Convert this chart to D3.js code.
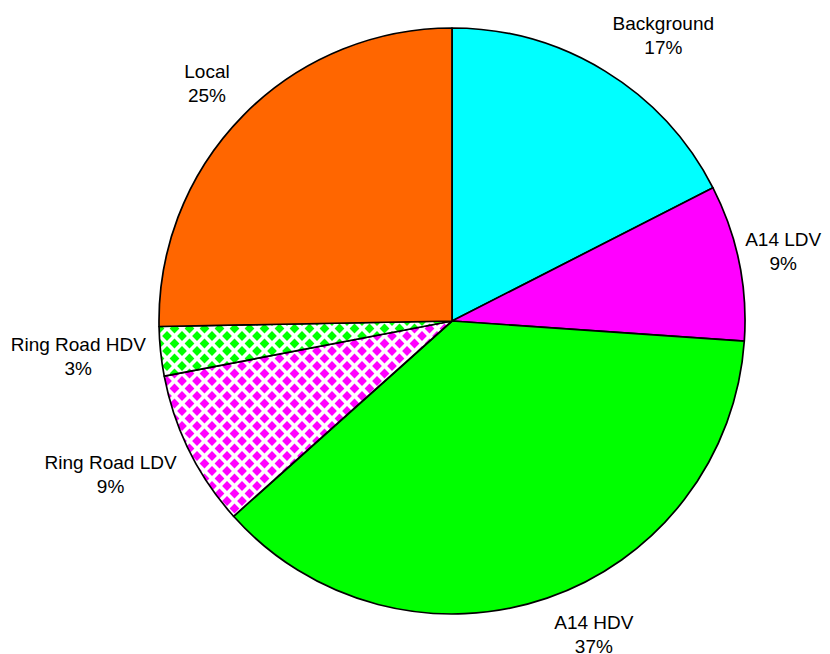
<!DOCTYPE html>
<html>
<head>
<meta charset="utf-8">
<script src="https://cdn.jsdelivr.net/npm/d3@7"></script>
<style>
  html, body { margin: 0; padding: 0; background: #ffffff; }
  svg { display: block; }
  text { font-family: "Liberation Sans", Arial, sans-serif; }
</style>
</head>
<body>
<svg id="chart" width="830" height="654"></svg>
<script>
// ---- data ----
const categories = ["Background", "A14 LDV", "A14 HDV", "Ring Road LDV", "Ring Road HDV", "Local"];
const values = [17.49, 8.6, 37.3, 8.6, 2.71, 25.3];
const percentLabels = ["17%", "9%", "37%", "9%", "3%", "25%"];

// ---- styles / layout ----
const fills = ["#00ffff", "#ff00ff", "#00ff00", "url(#checkMagenta)", "url(#checkGreen)", "#ff6600"];
const labelNudge = [[24, -3], [-8, -3], [29, -1], [-6, 6], [0, 1], [-9, -5]];

const W = 830, H = 654;
const cx = 452, cy = 321, R = 293;
const fontSize = 19, lineH = 24;

const svg = d3.select("#chart");
const defs = svg.append("defs");

function checker(id, color) {
  const p = 15;
  const pat = defs.append("pattern")
    .attr("id", id)
    .attr("patternUnits", "userSpaceOnUse")
    .attr("width", p).attr("height", p);
  pat.append("rect").attr("width", p).attr("height", p).attr("fill", "#ffffff");
  const h = p / 2, d = 4.9;
  const centers = [[h, h], [0, 0], [p, 0], [0, p], [p, p]];
  centers.forEach(([x, y]) => {
    pat.append("path")
      .attr("d", `M${x},${y - d}L${x + d},${y}L${x},${y + d}L${x - d},${y}Z`)
      .attr("fill", color);
  });
}
checker("checkMagenta", "#ff00ff");
checker("checkGreen", "#00ff00");

const data = categories.map((c, i) => ({ name: c, value: values[i], pct: percentLabels[i], fill: fills[i], nudge: labelNudge[i] }));

const pie = d3.pie().sort(null).value(d => d.value);
const arcs = pie(data);
const arc = d3.arc().innerRadius(0).outerRadius(R);

const g = svg.append("g").attr("transform", `translate(${cx},${cy})`);

g.selectAll("path.slice")
  .data(arcs)
  .enter().append("path")
  .attr("class", "slice")
  .attr("d", arc)
  .attr("fill", d => d.data.fill)
  .attr("stroke", "#000000")
  .attr("stroke-width", 1.7)
  .attr("stroke-linejoin", "round");

// labels
const r0 = 308;
arcs.forEach(a => {
  const mid = (a.startAngle + a.endAngle) / 2;
  const s = Math.sin(mid), c = Math.cos(mid);
  const ax = r0 * s, ay = -r0 * c;
  const t = g.append("text")
    .attr("text-anchor", "middle")
    .attr("font-size", fontSize)
    .attr("fill", "#000000");
  t.append("tspan").attr("x", 0).attr("dy", 0).text(a.data.name);
  t.append("tspan").attr("x", 0).attr("dy", lineH).text(a.data.pct);
  const bb = t.node().getBBox();
  const w = bb.width, h = 48;
  const lx = ax + (w / 2) * s + a.data.nudge[0];
  const ly = ay - (h / 2) * c + a.data.nudge[1];
  const firstBaseline = ly - lineH / 2 + fontSize * 0.35;
  t.attr("transform", `translate(${lx},${firstBaseline})`);
});
</script>
</body>
</html>
